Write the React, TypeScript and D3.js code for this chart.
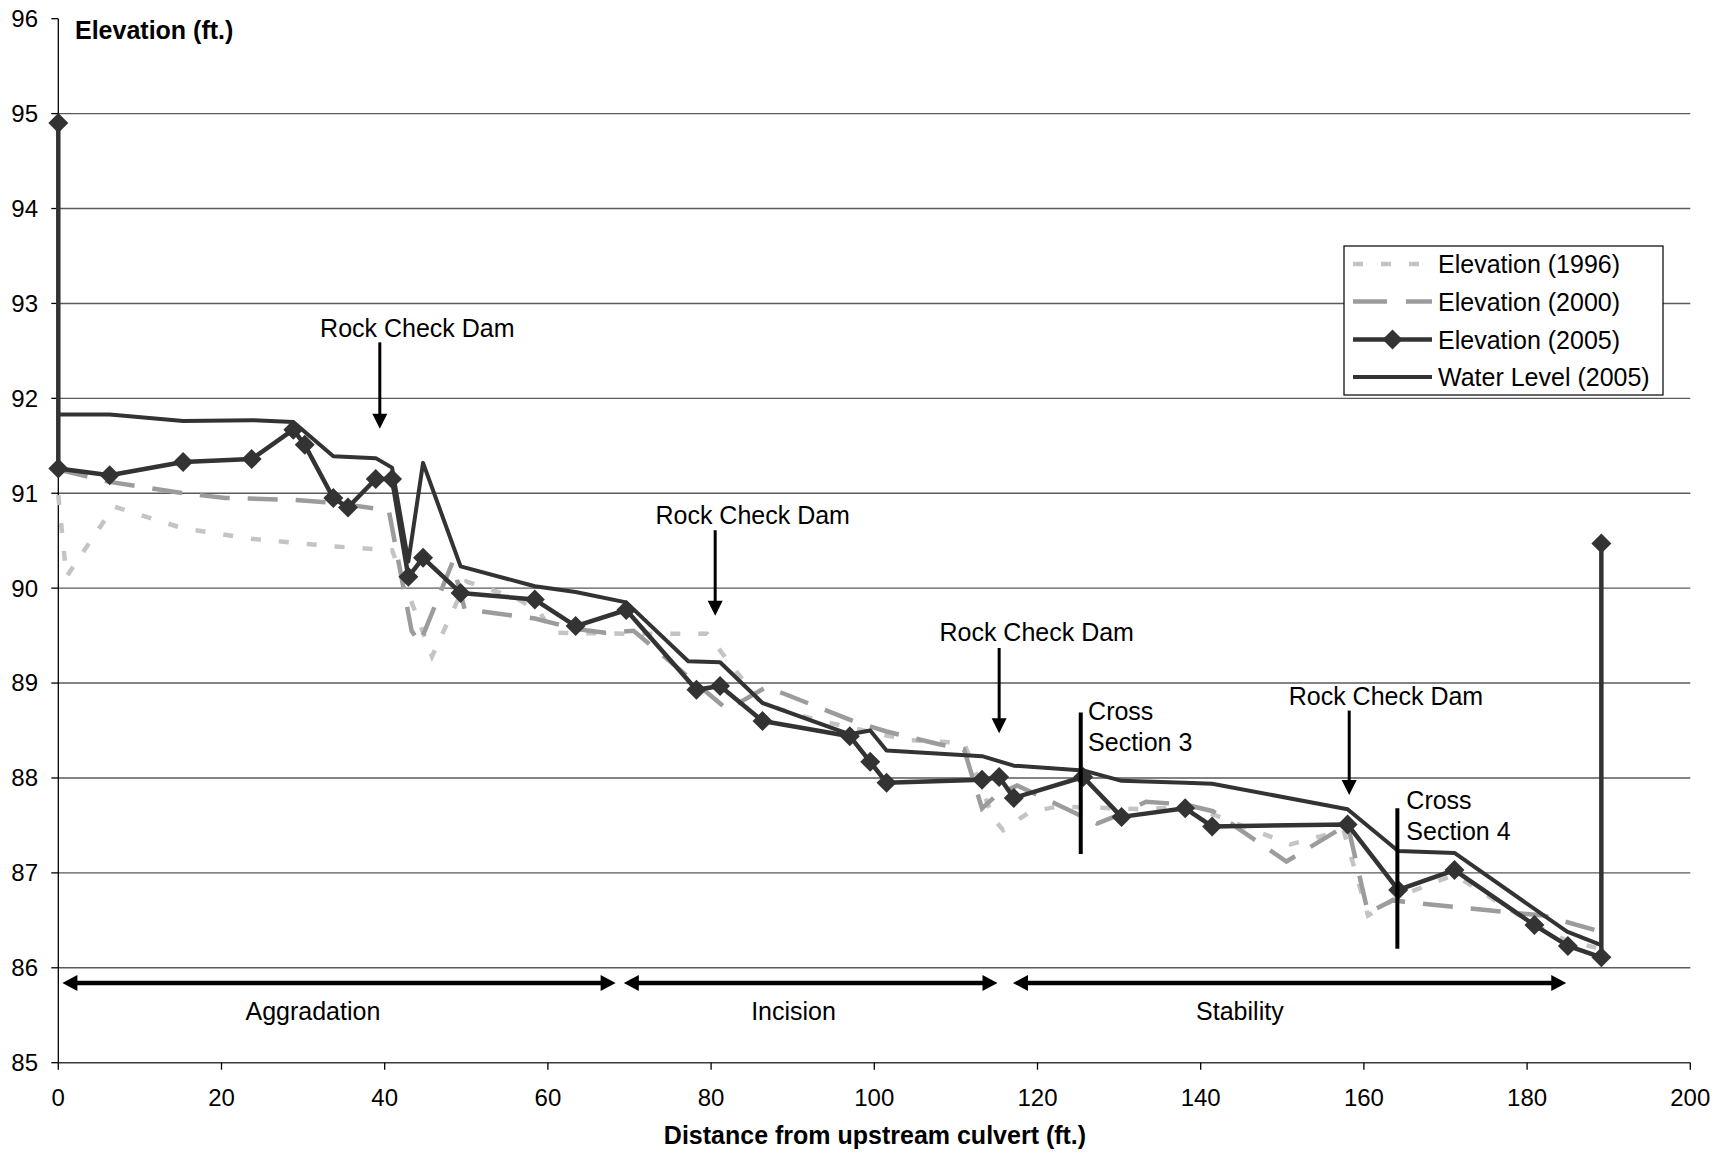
import React from "react";
import * as d3 from "d3";

// ---- data ----
const elevation1996: [number, number][] = [
  [0, 90.98], [1.0, 90.12], [6.8, 90.86], [15.3, 90.63], [23.7, 90.52],
  [33.7, 90.44], [40.9, 90.4], [45.8, 89.28], [50, 90.07], [56, 89.9],
  [59, 89.75], [60.5, 89.53], [70, 89.52], [79.5, 89.52], [86, 88.8],
  [90, 88.68], [93.5, 88.6], [104, 88.4], [111, 88.37], [114.6, 87.57],
  [115.8, 87.45], [119, 87.64], [122.5, 87.7], [133, 87.67], [139, 87.7],
  [145, 87.5], [151, 87.3], [157.5, 87.45], [160.5, 86.55], [164.2, 86.75],
  [171.1, 86.98], [180.9, 86.45], [185, 86.28], [189.1, 86.2],
];

const elevation2000: [number, number][] = [
  [0, 91.25], [6.3, 91.12], [15.3, 91.0], [20.5, 90.95], [28.8, 90.93],
  [33.7, 90.9], [40.5, 90.82], [43.3, 89.55], [44.3, 89.42], [48.3, 90.27],
  [49.8, 89.78], [58.4, 89.68], [63.4, 89.57], [67, 89.53], [70.5, 89.55],
  [82, 88.72], [86.8, 88.96], [97.7, 88.59], [101.5, 88.49], [107.7, 88.36],
  [111, 88.3], [113.2, 87.68], [115, 87.82], [117.5, 87.92], [121, 87.78],
  [127.3, 87.52], [130.5, 87.63], [133.3, 87.75], [138.1, 87.72], [141.5, 87.65],
  [150.5, 87.12], [158, 87.51], [160.5, 86.58], [163.5, 86.71], [170, 86.65],
  [182, 86.55], [189.1, 86.38],
];

const elevation2005: [number, number][] = [
  [0, 94.9], [0, 91.26], [6.3, 91.19], [15.3, 91.33], [23.7, 91.36],
  [28.8, 91.67], [30.2, 91.51], [33.7, 90.95], [35.5, 90.85], [38.9, 91.15],
  [40.9, 91.15], [42.9, 90.12], [44.7, 90.32], [49.3, 89.95], [58.4, 89.88],
  [63.4, 89.6], [69.6, 89.77], [78.2, 88.93], [81.1, 88.97], [86.3, 88.6],
  [97.0, 88.44], [99.5, 88.17], [101.5, 87.95], [113.2, 87.98], [115.3, 88.01],
  [117.1, 87.79], [125.6, 88.01], [130.3, 87.59], [138.1, 87.68], [141.4, 87.49],
  [158.0, 87.51], [164.2, 86.82], [171.1, 87.03], [180.9, 86.45], [185.0, 86.23],
  [189.1, 86.11], [189.1, 90.47],
];

const waterLevel2005: [number, number][] = [
  [0, 91.83], [6.3, 91.83], [15.3, 91.76], [23.7, 91.77], [28.8, 91.75],
  [33.7, 91.39], [38.9, 91.37], [40.9, 91.27], [42.9, 90.28], [44.7, 91.32],
  [49.3, 90.23], [58.4, 90.02], [63.4, 89.96], [69.6, 89.85], [77.2, 89.23],
  [81.1, 89.22], [86.3, 88.79], [97.0, 88.46], [99.5, 88.5], [101.5, 88.29],
  [113.2, 88.23], [117.1, 88.13], [125.6, 88.08], [130.3, 87.97], [138.1, 87.95],
  [141.4, 87.94], [158.0, 87.67], [164.2, 87.23], [171.1, 87.21], [184.9, 86.38],
  [189.1, 86.24],
];

const xTicks = [0, 20, 40, 60, 80, 100, 120, 140, 160, 180, 200];
const yTicks = [85, 86, 87, 88, 89, 90, 91, 92, 93, 94, 95, 96];

// rock check dams: arrow x, arrow top, arrow tip, label centre x, label baseline
const rockDams = [
  { x: 39.4, top: 92.59, tip: 91.68, tx: 44.0, ty: 92.65 },
  { x: 80.5, top: 90.61, tip: 89.71, tx: 85.1, ty: 90.68 },
  { x: 115.3, top: 89.37, tip: 88.47, tx: 119.9, ty: 89.44 },
  { x: 158.2, top: 88.71, tip: 87.82, tx: 162.7, ty: 88.77 },
];

const crossSections = [
  { x: 125.3, top: 88.69, bottom: 87.2, tx: 126.2, ty: [88.61, 88.28], label: ["Cross", "Section 3"] },
  { x: 164.1, top: 87.68, bottom: 86.2, tx: 165.2, ty: [87.67, 87.35], label: ["Cross", "Section 4"] },
];

const phases = [
  { from: 0.5, to: 68.3, label: "Aggradation", cx: 31.2 },
  { from: 69.3, to: 115.1, label: "Incision", cx: 90.1 },
  { from: 117.0, to: 184.8, label: "Stability", cx: 144.8 },
];
const phaseArrowY = 85.84;
const phaseLabelY = 85.45;

const legendItems = ["Elevation (1996)", "Elevation (2000)", "Elevation (2005)", "Water Level (2005)"];

const FONT = "'Liberation Sans', Arial, Helvetica, sans-serif";
const DARK = "#333333";

const App = () => {
  const width = 1723;
  const height = 1155;

  const x = d3.scaleLinear().domain([0, 200]).range([58.3, 1690.3]);
  const y = d3.scaleLinear().domain([85, 96]).range([1062.7, 18.7]);

  const line = d3
    .line<[number, number]>()
    .x((d) => x(d[0]))
    .y((d) => y(d[1]));

  const diamond = (cx: number, cy: number, r = 10) =>
    `M${cx},${cy - r}L${cx + r},${cy}L${cx},${cy + r}L${cx - r},${cy}Z`;

  // legend box
  const lg = { x0: 1344, y0: 246, x1: 1663, y1: 395 };
  const rowY = [264, 301.5, 339.5, 377];

  return (
    <svg
      width={width}
      height={height}
      style={{ position: "absolute", left: 0, top: 0, display: "block", background: "#fff" }}
      fontFamily={FONT}
    >
      <rect width={width} height={height} fill="#fff" />

      {/* gridlines */}
      {yTicks.filter((t) => t > 85 && t < 96).map((t) => (
        <line key={"g" + t} x1={x(0)} x2={x(200)} y1={y(t)} y2={y(t)} stroke="#5a5a5a" strokeWidth={1.4} />
      ))}

      {/* axes */}
      <line x1={x(0)} x2={x(200)} y1={y(85)} y2={y(85)} stroke="#3a3a3a" strokeWidth={1.5} />
      <line x1={x(0)} x2={x(0)} y1={y(85)} y2={y(96)} stroke="#000" strokeWidth={1.3} />
      {yTicks.map((t) => (
        <g key={"y" + t}>
          <line x1={x(0) - 7} x2={x(0)} y1={y(t)} y2={y(t)} stroke="#000" strokeWidth={1.3} />
          <text x={38} y={y(t)} dy="0.35em" textAnchor="end" fontSize={24} fill="#000">
            {t}
          </text>
        </g>
      ))}
      {xTicks.map((t) => (
        <g key={"x" + t}>
          <line x1={x(t)} x2={x(t)} y1={y(85)} y2={y(85) + 7} stroke="#000" strokeWidth={1.3} />
          <text x={x(t)} y={1106} textAnchor="middle" fontSize={24} fill="#000">
            {t}
          </text>
        </g>
      ))}

      <text x={75} y={39} fontSize={25} fontWeight="bold" fill="#000">
        Elevation (ft.)
      </text>
      <text x={875} y={1144} textAnchor="middle" fontSize={25} fontWeight="bold" fill="#000">
        Distance from upstream culvert (ft.)
      </text>

      {/* series */}
      <path d={line(elevation1996) || ""} fill="none" stroke="#c4c4c4" strokeWidth={4.5} strokeDasharray="10 18" />
      <path d={line(elevation2000) || ""} fill="none" stroke="#9c9c9c" strokeWidth={4.5} strokeDasharray="30 18" />
      <path d={line(waterLevel2005) || ""} fill="none" stroke={DARK} strokeWidth={4} strokeLinejoin="round" />
      <path d={line(elevation2005) || ""} fill="none" stroke={DARK} strokeWidth={4.5} strokeLinejoin="round" />
      {elevation2005.map((d, i) => (
        <path key={"m" + i} d={diamond(x(d[0]), y(d[1]))} fill={DARK} />
      ))}

      {/* rock check dams */}
      {rockDams.map((r, i) => {
        const ax = x(r.x);
        const tip = y(r.tip);
        return (
          <g key={"rd" + i}>
            <text x={x(r.tx)} y={y(r.ty)} textAnchor="middle" fontSize={25} fill="#000">
              Rock Check Dam
            </text>
            <line x1={ax} x2={ax} y1={y(r.top)} y2={tip - 12} stroke="#000" strokeWidth={3} />
            <path d={`M${ax - 7.5},${tip - 15}L${ax + 7.5},${tip - 15}L${ax},${tip}Z`} fill="#000" />
          </g>
        );
      })}

      {/* cross sections */}
      {crossSections.map((c, i) => (
        <g key={"cs" + i}>
          <line x1={x(c.x)} x2={x(c.x)} y1={y(c.top)} y2={y(c.bottom)} stroke="#000" strokeWidth={4} />
          {c.label.map((l, j) => (
            <text key={j} x={x(c.tx)} y={y(c.ty[j])} fontSize={25} fill="#000">
              {l}
            </text>
          ))}
        </g>
      ))}

      {/* phase arrows */}
      {phases.map((p, i) => {
        const x0 = x(p.from);
        const x1 = x(p.to);
        const ay = y(phaseArrowY);
        return (
          <g key={"ph" + i}>
            <line x1={x0 + 10} x2={x1 - 10} y1={ay} y2={ay} stroke="#000" strokeWidth={4.5} />
            <path d={`M${x0},${ay}L${x0 + 15},${ay - 8}L${x0 + 15},${ay + 8}Z`} fill="#000" />
            <path d={`M${x1},${ay}L${x1 - 15},${ay - 8}L${x1 - 15},${ay + 8}Z`} fill="#000" />
            <text x={x(p.cx)} y={y(phaseLabelY)} textAnchor="middle" fontSize={25} fill="#000">
              {p.label}
            </text>
          </g>
        );
      })}

      {/* legend */}
      <rect x={lg.x0} y={lg.y0} width={lg.x1 - lg.x0} height={lg.y1 - lg.y0} fill="#fff" stroke="#000" strokeWidth={1.2} />
      <line x1={1353} x2={1432} y1={rowY[0]} y2={rowY[0]} stroke="#c4c4c4" strokeWidth={4.5} strokeDasharray="10 18" />
      <line x1={1353} x2={1432} y1={rowY[1]} y2={rowY[1]} stroke="#9c9c9c" strokeWidth={4.5} strokeDasharray="34 19" />
      <line x1={1353} x2={1432} y1={rowY[2]} y2={rowY[2]} stroke={DARK} strokeWidth={4.5} />
      <path d={diamond(1392.5, rowY[2])} fill={DARK} />
      <line x1={1353} x2={1432} y1={rowY[3]} y2={rowY[3]} stroke={DARK} strokeWidth={4} />
      {legendItems.map((l, i) => (
        <text key={"l" + i} x={1438} y={rowY[i]} dy="0.36em" fontSize={25} fill="#000">
          {l}
        </text>
      ))}
    </svg>
  );
};

export default App;
